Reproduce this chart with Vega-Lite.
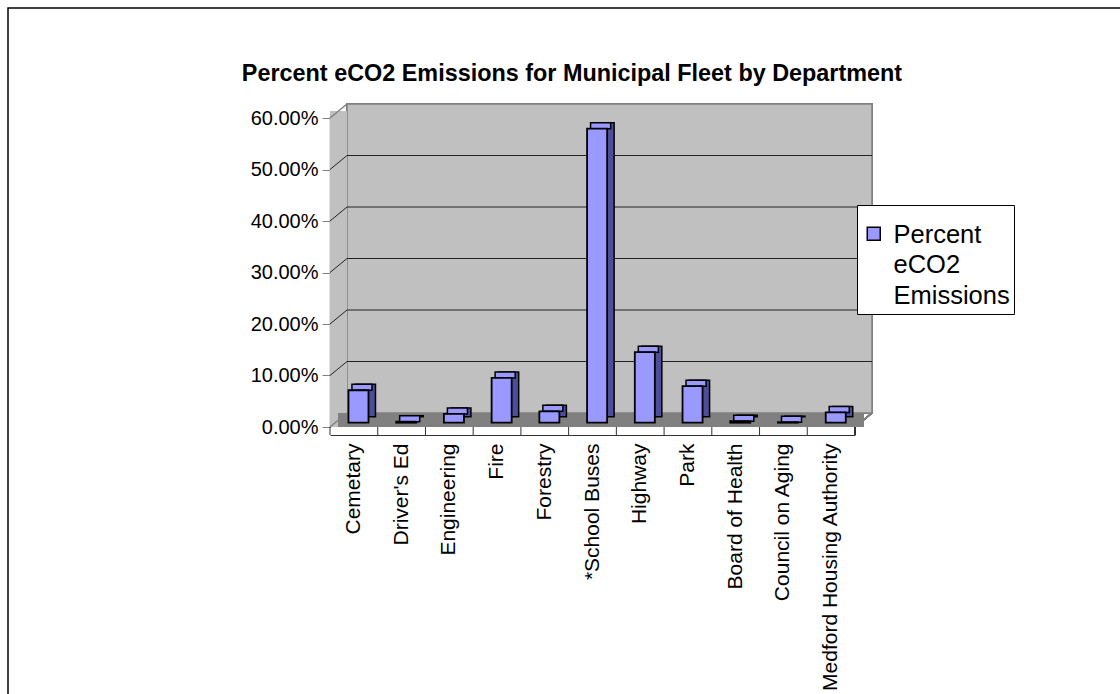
{
  "$schema": "https://vega.github.io/schema/vega-lite/v6.json",
  "autosize": {"type": "none"},
  "width": 1140,
  "height": 700,
  "padding": {"left": 8, "top": 8, "right": -28, "bottom": -14},
  "background": "white",
  "config": {
    "view": {"stroke": "black", "strokeWidth": 1.5, "fill": "white"},
    "font": "Liberation Sans",
    "style": {"guide-label": {"lineHeight": 30.5, "dy": 9}}
  },
  "title": {
    "text": "Percent eCO2 Emissions for Municipal Fleet by Department",
    "font": "Liberation Sans",
    "fontSize": 23.4,
    "fontWeight": "bold",
    "color": "black",
    "anchor": "middle",
    "frame": "group",
    "dx": -6,
    "dy": 82
  },
  "datasets": {
    "emissions": [
      {"department": "Cemetary", "share": 0.063},
      {"department": "Driver's Ed", "share": 0.002},
      {"department": "Engineering", "share": 0.017},
      {"department": "Fire", "share": 0.087},
      {"department": "Forestry", "share": 0.022},
      {"department": "*School Buses", "share": 0.571},
      {"department": "Highway", "share": 0.137},
      {"department": "Park", "share": 0.071},
      {"department": "Board of Health", "share": 0.003},
      {"department": "Council on Aging", "share": 0.001},
      {"department": "Medford Housing Authority", "share": 0.02}
    ],
    "levels": [
      {"level": 0}, {"level": 0.1}, {"level": 0.2}, {"level": 0.3},
      {"level": 0.4}, {"level": 0.5}, {"level": 0.6}
    ]
  },
  "data": {"name": "emissions"},
  "encoding": {
    "x": {
      "field": "department",
      "type": "nominal",
      "sort": null,
      "scale": {
        "domain": ["Cemetary", "Driver's Ed", "Engineering", "Fire", "Forestry", "*School Buses", "Highway", "Park", "Board of Health", "Council on Aging", "Medford Housing Authority"],
        "range": [322, 847],
        "paddingInner": 0,
        "paddingOuter": 0
      }
    }
  },
  "layer": [
    {
      "description": "back wall",
      "mark": {"type": "rect", "fill": "#C0C0C0", "stroke": "#808080", "strokeWidth": 1.5, "xOffset": 17, "x2Offset": 17, "yOffset": -14, "y2Offset": -14},
      "encoding": {
        "x": {"datum": "Cemetary", "type": "nominal", "bandPosition": 0},
        "x2": {"datum": "Medford Housing Authority", "bandPosition": 1},
        "y": {"datum": 0, "type": "quantitative", "scale": {"domain": [0, 0.6], "range": [419, 110], "nice": false}},
        "y2": {"datum": 0.6}
      }
    },
    {
      "description": "left side wall",
      "mark": {"type": "rect", "fill": "#C0C0C0", "x2Offset": 17, "y2Offset": -7},
      "encoding": {
        "x": {"datum": "Cemetary", "type": "nominal", "bandPosition": 0},
        "x2": {"datum": "Cemetary", "bandPosition": 0},
        "y": {"datum": 0, "type": "quantitative"},
        "y2": {"datum": 0.6}
      }
    },
    {
      "description": "floor",
      "mark": {"type": "rect", "fill": "#808080", "xOffset": 8.5, "x2Offset": 8.5, "y2Offset": -14},
      "encoding": {
        "x": {"datum": "Cemetary", "type": "nominal", "bandPosition": 0},
        "x2": {"datum": "Medford Housing Authority", "bandPosition": 1},
        "y": {"datum": 0, "type": "quantitative"},
        "y2": {"datum": 0}
      }
    },
    {
      "description": "gridlines on the back wall",
      "data": {"name": "levels"},
      "transform": [{"filter": "datum.level > 0 && datum.level < 0.6"}],
      "mark": {"type": "rule", "color": "#222222", "strokeWidth": 1, "xOffset": 17, "x2Offset": 17, "yOffset": -14},
      "encoding": {
        "x": {"datum": "Cemetary", "type": "nominal", "bandPosition": 0},
        "x2": {"datum": "Medford Housing Authority", "bandPosition": 1},
        "y": {"field": "level", "type": "quantitative"}
      }
    },
    {
      "description": "gridlines on the side wall",
      "data": {"name": "levels"},
      "transform": [{"filter": "datum.level > 0 && datum.level < 0.6"}],
      "mark": {"type": "rule", "color": "#222222", "strokeWidth": 1, "x2Offset": 17, "y2Offset": -14},
      "encoding": {
        "x": {"datum": "Cemetary", "type": "nominal", "bandPosition": 0},
        "x2": {"datum": "Cemetary", "bandPosition": 0},
        "y": {"field": "level", "type": "quantitative"},
        "y2": {"field": "level"}
      }
    },
    {
      "description": "side wall edges",
      "data": {"name": "levels"},
      "transform": [{"filter": "datum.level == 0 || datum.level == 0.6"}],
      "mark": {"type": "rule", "color": "#808080", "strokeWidth": 1.5, "x2Offset": 17, "y2Offset": -14},
      "encoding": {
        "x": {"datum": "Cemetary", "type": "nominal", "bandPosition": 0},
        "x2": {"datum": "Cemetary", "bandPosition": 0},
        "y": {"field": "level", "type": "quantitative"},
        "y2": {"field": "level"}
      }
    },
    {
      "description": "right edge of the floor",
      "mark": {"type": "rule", "color": "#808080", "strokeWidth": 1.5, "x2Offset": 17, "y2Offset": -14},
      "encoding": {
        "x": {"datum": "Medford Housing Authority", "type": "nominal", "bandPosition": 1},
        "x2": {"datum": "Medford Housing Authority", "bandPosition": 1},
        "y": {"datum": 0, "type": "quantitative"},
        "y2": {"datum": 0}
      }
    },
    {
      "description": "category boundary ticks",
      "mark": {"type": "rule", "color": "#333333", "strokeWidth": 1, "y2Offset": 8},
      "encoding": {
        "x": {"field": "department", "type": "nominal", "sort": null, "bandPosition": 0},
        "y": {"datum": 0, "type": "quantitative"},
        "y2": {"datum": 0}
      }
    },
    {
      "description": "closing tick after the last category",
      "mark": {"type": "rule", "color": "#333333", "strokeWidth": 1, "y2Offset": 8},
      "encoding": {
        "x": {"datum": "Medford Housing Authority", "type": "nominal", "bandPosition": 1},
        "y": {"datum": 0, "type": "quantitative"},
        "y2": {"datum": 0}
      }
    },
    {
      "description": "column depth (side face)",
      "mark": {"type": "bar", "fill": "#4D4D99", "stroke": "black", "strokeWidth": 1.5, "xOffset": 11.6, "yOffset": -10.3, "y2Offset": -10.3, "width": {"band": 0.42}},
      "encoding": {
        "x": {"field": "department", "type": "nominal", "sort": null},
        "y": {"field": "share", "type": "quantitative"},
        "y2": {"datum": 0}
      }
    },
    {
      "description": "column top face",
      "mark": {"type": "bar", "fill": "#9999FF", "stroke": "black", "strokeWidth": 1.5, "xOffset": 8.1, "yOffset": -10.3, "y2Offset": -4.3, "width": {"band": 0.42}},
      "encoding": {
        "x": {"field": "department", "type": "nominal", "sort": null},
        "y": {"field": "share", "type": "quantitative"},
        "y2": {"field": "share"}
      }
    },
    {
      "description": "column front face",
      "mark": {"type": "bar", "stroke": "black", "strokeWidth": 1.8, "xOffset": 4.6, "yOffset": -4.3, "y2Offset": -4.3, "width": {"band": 0.42}},
      "encoding": {
        "x": {
          "field": "department",
          "type": "nominal",
          "sort": null,
          "axis": {
            "orient": "bottom",
            "offset": -273,
            "title": null,
            "ticks": false,
            "domain": true,
            "domainColor": "#333333",
            "domainWidth": 1,
            "labelAngle": -90,
            "labelAlign": "right",
            "labelBaseline": "middle",
            "labelPadding": 8,
            "labelOffset": -9,
            "labelFont": "Liberation Sans",
            "labelFontSize": 21,
            "labelColor": "black",
            "labelLimit": 400
          }
        },
        "y": {
          "field": "share",
          "type": "quantitative",
          "axis": {
            "orient": "left",
            "offset": -322,
            "title": null,
            "values": [0, 0.1, 0.2, 0.3, 0.4, 0.5, 0.6],
            "format": ".2%",
            "grid": false,
            "domainColor": "#808080",
            "domainWidth": 1.5,
            "tickColor": "#808080",
            "tickSize": 8,
            "labelPadding": 4,
            "labelOffset": -9,
            "labelFont": "Liberation Sans",
            "labelFontSize": 20,
            "labelColor": "black"
          }
        },
        "y2": {"datum": 0},
        "color": {
          "datum": "Percent eCO2 Emissions",
          "type": "nominal",
          "scale": {"range": ["#9999FF"]},
          "legend": {
            "title": " ",
            "titleFontSize": 8,
            "titlePadding": 4,
            "orient": "none",
            "legendX": 849,
            "legendY": 197,
            "symbolType": "square",
            "symbolSize": 169,
            "symbolStrokeColor": "black",
            "symbolStrokeWidth": 1.5,
            "symbolFillColor": "#9999FF",
            "labelExpr": "split(datum.label, ' ')",
            "labelFont": "Liberation Sans",
            "labelFontSize": 25.5,
            "labelColor": "black",
            "labelOffset": 7,
            "labelBaseline": "alphabetic",
            "padding": 4,
            "fillColor": "white",
            "strokeColor": "black"
          }
        }
      }
    }
  ]
}
